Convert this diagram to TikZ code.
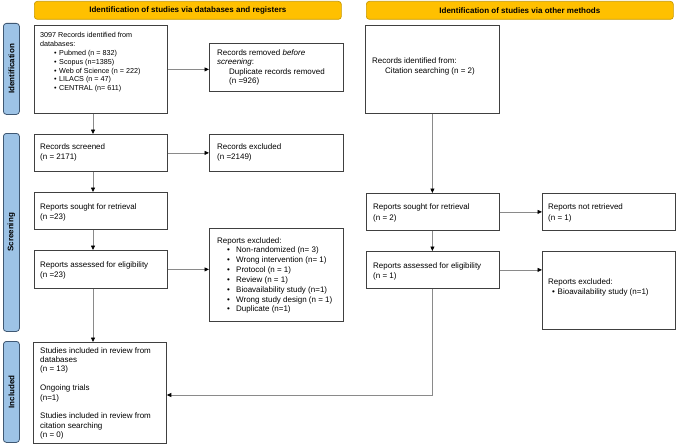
\documentclass[tikz,border=0pt]{standalone}
\usepackage{fontspec}
\setmainfont{Liberation Sans}
\usetikzlibrary{arrows.meta}
\definecolor{hdrfill}{HTML}{FFC000}
\definecolor{hdrline}{HTML}{C99A00}
\definecolor{sidefill}{HTML}{9DC3E6}
\definecolor{sideline}{HTML}{3F5873}
\definecolor{boxline}{HTML}{404040}
\definecolor{connline}{HTML}{8A8A8A}
\newcommand\mkbox[5]{\node[bx, anchor=north west, minimum width={(#4-#2)*1pt}, minimum height={(#5-#3)*1pt}] (#1) at (#2,#3) {};}
\newcommand\blt[2]{\hspace*{#1pt}\makebox[#2pt][l]{\textbullet}}
\tikzset{
  bx/.style={draw=boxline, line width=0.8pt, fill=white, inner sep=0pt},
  txt/.style={inner sep=0pt, align=left, font=\fontsize{8}{9.5}\selectfont, anchor=north west},
  hdr/.style={draw=hdrline, fill=hdrfill, rounded corners=3pt, line width=0.7pt, inner sep=0pt, font=\fontsize{8}{9.5}\selectfont\bfseries, anchor=north west},
  side/.style={draw=sideline, fill=sidefill, rounded corners=3pt, line width=0.8pt, inner sep=0pt, anchor=north west},
  sidetxt/.style={rotate=90, inner sep=0pt, font=\fontsize{8}{9.5}\selectfont\bfseries},
  conn/.style={draw=connline, line width=0.8pt, -{Triangle[length=4.5pt,width=4pt,color=black]}},
}
\begin{document}
\begin{tikzpicture}[x=1pt,y=-1pt]
\useasboundingbox (0,0) rectangle (676,444);
% headers
\node[hdr, minimum width=307pt, minimum height=18pt] (h1) at (34,1) {Identification of studies via databases and registers};
\node[hdr, minimum width=307pt, minimum height=18pt] (h2) at (366,1) {Identification of studies via other methods};
% side labels
\node[side, minimum width=16pt, minimum height=91pt] (s1) at (3,23) {};
\node[sidetxt] (s1t) at (s1.center) {Identification};
\node[side, minimum width=16pt, minimum height=198pt] (s2) at (3,133) {};
\node[sidetxt] (s2t) at (s2.center) {Screening};
\node[side, minimum width=16pt, minimum height=101pt] (s3) at (3,341) {};
\node[sidetxt] (s3t) at (s3.center) {Included};
% boxes
\mkbox{b1}{34}{25}{167}{113}
\mkbox{rem}{209}{43}{343}{91}
\mkbox{rid}{365}{25}{499}{113}
\mkbox{scr}{34}{134}{167}{171}
\mkbox{exc}{209}{134}{343}{171}
\mkbox{sou}{34}{192}{167}{229}
\mkbox{ass}{34}{250}{167}{288}
\mkbox{rex}{209}{228}{343}{321}
\mkbox{inc}{33}{342}{166}{442.5}
\mkbox{souR}{366}{193}{499}{230}
\mkbox{nr}{542}{193}{675}{230}
\mkbox{assR}{366}{251}{499}{288}
\mkbox{exR}{542}{251}{675}{329}
% texts
\node[txt, font=\fontsize{7.2}{8.8}\selectfont] (b1t) at (40,32.4) {3097 Records identified from\\databases:\\
\blt{14}{5}Pubmed (n = 832)\\
\blt{14}{5}Scopus (n=1385)\\
\blt{14}{5}Web of Science (n = 222)\\
\blt{14}{5}LILACS (n = 47)\\
\blt{14}{5}CENTRAL (n= 611)};
\node[txt] (remt) at (217,49.5) {Records removed \textit{before}\\\textit{screening}:\\
\hspace*{12pt}Duplicate records removed\\
\hspace*{12pt}(n =926)};
\node[txt, font=\fontsize{8}{10}\selectfont] (ridt) at (372,58) {Records identified from:\\
\hspace*{13pt}Citation searching (n = 2)};
\node[txt, font=\fontsize{8}{10}\selectfont] (scrt) at (40,144) {Records screened\\(n = 2171)};
\node[txt, font=\fontsize{8}{10}\selectfont] (exct) at (217,144) {Records excluded\\(n =2149)};
\node[txt] (sout) at (40,204) {Reports sought for retrieval\\(n =23)};
\node[txt, font=\fontsize{8}{10}\selectfont] (asst) at (40,261) {Reports assessed for eligibility\\(n =23)};
\node[txt, font=\fontsize{8}{9.85}\selectfont] (rext) at (217,237) {Reports excluded:\\
\blt{10}{9}Non-randomized (n= 3)\\
\blt{10}{9}Wrong intervention (n= 1)\\
\blt{10}{9}Protocol (n = 1)\\
\blt{10}{9}Review (n = 1)\\
\blt{10}{9}Bioavailability study (n=1)\\
\blt{10}{9}Wrong study design (n = 1)\\
\blt{10}{9}Duplicate (n=1)};
\node[txt, font=\fontsize{8}{9.4}\selectfont] (inct) at (40,347) {Studies included in review from\\databases\\(n = 13)\\[9.4pt]
Ongoing trials\\(n=1)\\[9.4pt]
Studies included in review from\\citation searching\\(n = 0)};
\node[txt, font=\fontsize{8}{10}\selectfont] (souRt) at (373,204) {Reports sought for retrieval\\(n = 2)};
\node[txt, font=\fontsize{8}{10}\selectfont] (nrt) at (548,204) {Reports not retrieved\\(n = 1)};
\node[txt, font=\fontsize{8}{10}\selectfont] (assRt) at (373,262) {Reports assessed for eligibility\\(n = 1)};
\node[txt, font=\fontsize{8}{10}\selectfont] (exRt) at (548,278) {Reports excluded:\\
\blt{4}{5.5}Bioavailability study (n=1)};
% connectors
\coordinate (lx) at (93,0);
\draw[conn] (b1.east) -- (b1.east -| rem.west);
\draw[conn] (scr.east) -- (scr.east -| exc.west);
\draw[conn] (ass.east) -- (ass.east -| rex.west);
\draw[conn] (souR.east) -- (souR.east -| nr.west);
\draw[conn] (assR.east) -- (assR.east -| exR.west);
\draw[conn] (b1.south -| lx) -- (scr.north -| lx);
\draw[conn] (scr.south -| lx) -- (sou.north -| lx);
\draw[conn] (sou.south -| lx) -- (ass.north -| lx);
\draw[conn] (ass.south -| lx) -- (inc.north -| lx);
\draw[conn] (rid.south) -- (rid.south |- souR.north);
\draw[conn] (souR.south -| rid.south) -- (rid.south |- assR.north);
\coordinate (jn) at (432,395);
\draw[conn] (assR.south -| jn) -- (jn) -- (jn -| inc.east);
\end{tikzpicture}
\end{document}
